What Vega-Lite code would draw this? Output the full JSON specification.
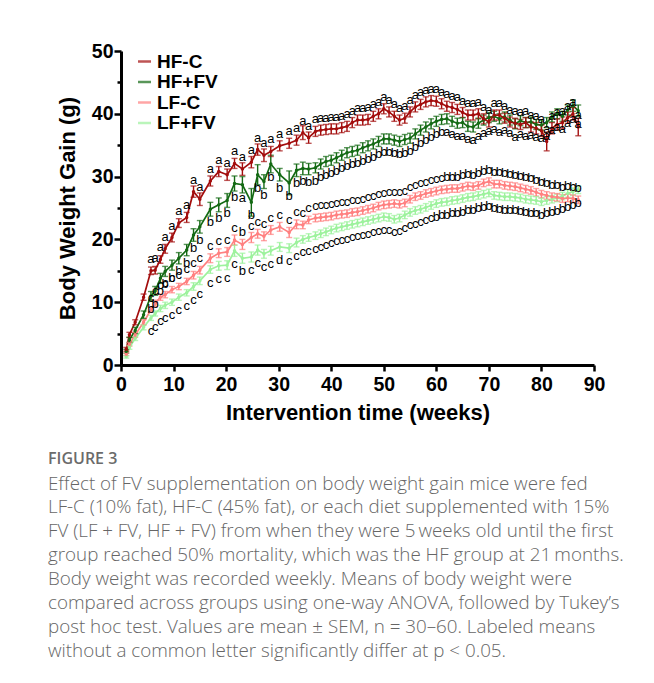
{
"$schema": "https://vega.github.io/schema/vega-lite/v6.json",
"width": 473, "height": 314,
"autosize": {"type": "none"},
"padding": {"left": 121, "top": 51, "right": 60, "bottom": 318},
"config": {"view": {"stroke": null}, "font": "Liberation Sans"},
"title": {
  "text": "FIGURE 3",
  "subtitle": [
    "Effect of FV supplementation on body weight gain mice were fed",
    "LF-C (10% fat), HF-C (45% fat), or each diet supplemented with 15%",
    "FV (LF + FV, HF + FV) from when they were 5\u2009weeks old until the first",
    "group reached 50% mortality, which was the HF group at 21\u2009months.",
    "Body weight was recorded weekly. Means of body weight were",
    "compared across groups using one-way ANOVA, followed by Tukey\u2019s",
    "post hoc test. Values are mean \u00b1 SEM, n = 30\u201360. Labeled means",
    "without a common letter significantly differ at p < 0.05."
  ],
  "orient": "bottom", "anchor": "start", "frame": "group",
  "offset": 27, "dx": -73,
  "font": "Open Sans", "fontSize": 16, "fontWeight": 600, "color": "#6b6b6b",
  "subtitleFont": "Open Sans", "subtitleFontSize": 18.8, "subtitleFontWeight": 300,
  "subtitleColor": "#666666", "subtitleLineHeight": 23.9, "subtitlePadding": 8
},
"data": {"values": [
{"g":"LF+FV","w":1,"m":1.3,"s":0.2,"l":""},
{"g":"LF+FV","w":1.6,"m":2.8,"s":0.3,"l":""},
{"g":"LF+FV","w":2.7,"m":4.2,"s":0.3,"l":""},
{"g":"LF+FV","w":4.3,"m":6.0,"s":0.4,"l":""},
{"g":"LF+FV","w":5.7,"m":7.5,"s":0.4,"l":"c"},
{"g":"LF+FV","w":6.5,"m":8.2,"s":0.4,"l":"c"},
{"g":"LF+FV","w":7.5,"m":9.0,"s":0.5,"l":"c"},
{"g":"LF+FV","w":8.4,"m":9.5,"s":0.5,"l":"c"},
{"g":"LF+FV","w":9.7,"m":10.0,"s":0.5,"l":"c"},
{"g":"LF+FV","w":11,"m":10.8,"s":0.5,"l":"c"},
{"g":"LF+FV","w":12.5,"m":11.5,"s":0.5,"l":"c"},
{"g":"LF+FV","w":13.8,"m":12.5,"s":0.6,"l":"c"},
{"g":"LF+FV","w":15,"m":13.4,"s":0.6,"l":"c"},
{"g":"LF+FV","w":17,"m":15.2,"s":0.6,"l":"c"},
{"g":"LF+FV","w":18.6,"m":15.8,"s":0.7,"l":"c"},
{"g":"LF+FV","w":20.2,"m":15.9,"s":0.7,"l":"c"},
{"g":"LF+FV","w":21.6,"m":18.2,"s":0.9,"l":"c"},
{"g":"LF+FV","w":23.1,"m":17.0,"s":0.8,"l":"b"},
{"g":"LF+FV","w":24.8,"m":17.2,"s":0.8,"l":"c"},
{"g":"LF+FV","w":26,"m":18.3,"s":0.8,"l":"c"},
{"g":"LF+FV","w":27.2,"m":17.7,"s":0.7,"l":"c"},
{"g":"LF+FV","w":28.5,"m":18.2,"s":0.7,"l":"c"},
{"g":"LF+FV","w":30.2,"m":18.8,"s":0.7,"l":"d"},
{"g":"LF+FV","w":32,"m":18.6,"s":0.7,"l":"c"},
{"g":"LF+FV","w":33.4,"m":19.5,"s":0.7,"l":"c"},
{"g":"LF+FV","w":34.6,"m":20.0,"s":0.6,"l":"c"},
{"g":"LF+FV","w":35.7,"m":20.3,"s":0.6,"l":"c"},
{"g":"LF+FV","w":37,"m":20.6,"s":0.6,"l":"c"},
{"g":"LF+FV","w":38,"m":20.9,"s":0.6,"l":"c"},
{"g":"LF+FV","w":39,"m":21.2,"s":0.6,"l":"c"},
{"g":"LF+FV","w":40,"m":21.5,"s":0.6,"l":"c"},
{"g":"LF+FV","w":41,"m":21.8,"s":0.6,"l":"c"},
{"g":"LF+FV","w":42,"m":22.0,"s":0.6,"l":"c"},
{"g":"LF+FV","w":43,"m":22.2,"s":0.6,"l":"c"},
{"g":"LF+FV","w":44,"m":22.4,"s":0.6,"l":"c"},
{"g":"LF+FV","w":45,"m":22.6,"s":0.6,"l":"c"},
{"g":"LF+FV","w":46,"m":22.8,"s":0.6,"l":"c"},
{"g":"LF+FV","w":47,"m":23.0,"s":0.6,"l":"c"},
{"g":"LF+FV","w":48,"m":23.2,"s":0.6,"l":"c"},
{"g":"LF+FV","w":49,"m":23.4,"s":0.6,"l":"c"},
{"g":"LF+FV","w":50,"m":23.6,"s":0.6,"l":"c"},
{"g":"LF+FV","w":51,"m":23.5,"s":0.6,"l":"c"},
{"g":"LF+FV","w":52,"m":23.2,"s":0.6,"l":"c"},
{"g":"LF+FV","w":53,"m":23.4,"s":0.6,"l":"c"},
{"g":"LF+FV","w":54,"m":23.9,"s":0.6,"l":"c"},
{"g":"LF+FV","w":55,"m":24.3,"s":0.6,"l":"c"},
{"g":"LF+FV","w":56,"m":24.6,"s":0.6,"l":"c"},
{"g":"LF+FV","w":57,"m":24.8,"s":0.6,"l":"c"},
{"g":"LF+FV","w":58,"m":25.1,"s":0.6,"l":"c"},
{"g":"LF+FV","w":59,"m":25.4,"s":0.6,"l":"c"},
{"g":"LF+FV","w":60,"m":25.7,"s":0.6,"l":"b"},
{"g":"LF+FV","w":61,"m":25.9,"s":0.6,"l":"b"},
{"g":"LF+FV","w":62,"m":26.0,"s":0.6,"l":"b"},
{"g":"LF+FV","w":63,"m":26.2,"s":0.6,"l":"b"},
{"g":"LF+FV","w":64,"m":26.3,"s":0.6,"l":"b"},
{"g":"LF+FV","w":65,"m":26.5,"s":0.6,"l":"b"},
{"g":"LF+FV","w":66,"m":26.7,"s":0.6,"l":"b"},
{"g":"LF+FV","w":67,"m":26.8,"s":0.6,"l":"b"},
{"g":"LF+FV","w":68,"m":27.0,"s":0.6,"l":"b"},
{"g":"LF+FV","w":69,"m":27.2,"s":0.6,"l":"b"},
{"g":"LF+FV","w":70,"m":27.4,"s":0.6,"l":"b"},
{"g":"LF+FV","w":71,"m":27.0,"s":0.6,"l":"b"},
{"g":"LF+FV","w":72,"m":26.9,"s":0.6,"l":"b"},
{"g":"LF+FV","w":73,"m":26.8,"s":0.6,"l":"b"},
{"g":"LF+FV","w":74,"m":26.8,"s":0.6,"l":"b"},
{"g":"LF+FV","w":75,"m":26.7,"s":0.6,"l":"b"},
{"g":"LF+FV","w":76,"m":26.6,"s":0.6,"l":"b"},
{"g":"LF+FV","w":77,"m":26.4,"s":0.6,"l":"b"},
{"g":"LF+FV","w":78,"m":26.3,"s":0.6,"l":"b"},
{"g":"LF+FV","w":79,"m":26.2,"s":0.6,"l":"b"},
{"g":"LF+FV","w":80,"m":26.0,"s":0.6,"l":"b"},
{"g":"LF+FV","w":81,"m":26.2,"s":0.6,"l":"b"},
{"g":"LF+FV","w":82,"m":26.4,"s":0.6,"l":"b"},
{"g":"LF+FV","w":83,"m":26.6,"s":0.6,"l":"b"},
{"g":"LF+FV","w":84,"m":26.9,"s":0.6,"l":"b"},
{"g":"LF+FV","w":85,"m":27.3,"s":0.6,"l":"b"},
{"g":"LF+FV","w":86,"m":27.6,"s":0.6,"l":"b"},
{"g":"LF+FV","w":87,"m":27.9,"s":0.6,"l":"b"},
{"g":"LF-C","w":1,"m":1.7,"s":0.2,"l":""},
{"g":"LF-C","w":1.6,"m":3.3,"s":0.3,"l":""},
{"g":"LF-C","w":2.7,"m":4.8,"s":0.4,"l":""},
{"g":"LF-C","w":4.3,"m":6.8,"s":0.4,"l":""},
{"g":"LF-C","w":5.7,"m":8.8,"s":0.4,"l":"c"},
{"g":"LF-C","w":6.5,"m":9.8,"s":0.5,"l":"c"},
{"g":"LF-C","w":7.5,"m":10.8,"s":0.5,"l":"c"},
{"g":"LF-C","w":8.4,"m":11.2,"s":0.5,"l":"c"},
{"g":"LF-C","w":9.7,"m":12.0,"s":0.5,"l":"c"},
{"g":"LF-C","w":11,"m":12.5,"s":0.5,"l":"c"},
{"g":"LF-C","w":12.5,"m":13.3,"s":0.5,"l":"c"},
{"g":"LF-C","w":13.8,"m":14.3,"s":0.6,"l":"c"},
{"g":"LF-C","w":15,"m":15.1,"s":0.6,"l":"c"},
{"g":"LF-C","w":17,"m":17.0,"s":0.7,"l":"c"},
{"g":"LF-C","w":18.6,"m":17.8,"s":0.7,"l":"c"},
{"g":"LF-C","w":20.2,"m":18.0,"s":0.7,"l":"c"},
{"g":"LF-C","w":21.6,"m":19.9,"s":0.8,"l":"c"},
{"g":"LF-C","w":23.1,"m":19.2,"s":0.8,"l":"b"},
{"g":"LF-C","w":24.8,"m":20.3,"s":0.8,"l":"c"},
{"g":"LF-C","w":26,"m":20.9,"s":0.7,"l":"c"},
{"g":"LF-C","w":27.2,"m":20.5,"s":0.7,"l":"c"},
{"g":"LF-C","w":28.5,"m":21.5,"s":0.7,"l":"c"},
{"g":"LF-C","w":30.2,"m":22.0,"s":0.7,"l":"c"},
{"g":"LF-C","w":32,"m":21.1,"s":0.8,"l":"c"},
{"g":"LF-C","w":33.4,"m":22.4,"s":0.7,"l":"c"},
{"g":"LF-C","w":34.6,"m":22.3,"s":0.6,"l":"c"},
{"g":"LF-C","w":35.7,"m":23.1,"s":0.6,"l":"c"},
{"g":"LF-C","w":37,"m":23.4,"s":0.6,"l":"c"},
{"g":"LF-C","w":38,"m":23.5,"s":0.6,"l":"c"},
{"g":"LF-C","w":39,"m":23.6,"s":0.6,"l":"c"},
{"g":"LF-C","w":40,"m":23.7,"s":0.6,"l":"c"},
{"g":"LF-C","w":41,"m":23.9,"s":0.6,"l":"c"},
{"g":"LF-C","w":42,"m":24.0,"s":0.6,"l":"c"},
{"g":"LF-C","w":43,"m":24.1,"s":0.6,"l":"c"},
{"g":"LF-C","w":44,"m":24.3,"s":0.6,"l":"c"},
{"g":"LF-C","w":45,"m":24.4,"s":0.6,"l":"c"},
{"g":"LF-C","w":46,"m":24.6,"s":0.6,"l":"c"},
{"g":"LF-C","w":47,"m":24.8,"s":0.6,"l":"c"},
{"g":"LF-C","w":48,"m":25.0,"s":0.6,"l":"c"},
{"g":"LF-C","w":49,"m":25.3,"s":0.6,"l":"c"},
{"g":"LF-C","w":50,"m":25.5,"s":0.6,"l":"c"},
{"g":"LF-C","w":51,"m":25.6,"s":0.6,"l":"c"},
{"g":"LF-C","w":52,"m":25.7,"s":0.6,"l":"c"},
{"g":"LF-C","w":53,"m":25.6,"s":0.6,"l":"c"},
{"g":"LF-C","w":54,"m":25.8,"s":0.6,"l":"c"},
{"g":"LF-C","w":55,"m":26.4,"s":0.6,"l":"c"},
{"g":"LF-C","w":56,"m":26.8,"s":0.6,"l":"c"},
{"g":"LF-C","w":57,"m":27.0,"s":0.6,"l":"c"},
{"g":"LF-C","w":58,"m":27.3,"s":0.6,"l":"c"},
{"g":"LF-C","w":59,"m":27.5,"s":0.6,"l":"c"},
{"g":"LF-C","w":60,"m":27.7,"s":0.6,"l":"c"},
{"g":"LF-C","w":61,"m":27.9,"s":0.6,"l":"c"},
{"g":"LF-C","w":62,"m":28.0,"s":0.6,"l":"b"},
{"g":"LF-C","w":63,"m":28.1,"s":0.6,"l":"b"},
{"g":"LF-C","w":64,"m":28.1,"s":0.6,"l":"b"},
{"g":"LF-C","w":65,"m":28.3,"s":0.6,"l":"b"},
{"g":"LF-C","w":66,"m":28.5,"s":0.6,"l":"b"},
{"g":"LF-C","w":67,"m":28.4,"s":0.6,"l":"b"},
{"g":"LF-C","w":68,"m":28.6,"s":0.6,"l":"b"},
{"g":"LF-C","w":69,"m":29.0,"s":0.6,"l":"b"},
{"g":"LF-C","w":70,"m":29.2,"s":0.6,"l":"b"},
{"g":"LF-C","w":71,"m":28.8,"s":0.6,"l":"b"},
{"g":"LF-C","w":72,"m":28.8,"s":0.6,"l":"b"},
{"g":"LF-C","w":73,"m":28.6,"s":0.6,"l":"b"},
{"g":"LF-C","w":74,"m":28.5,"s":0.6,"l":"b"},
{"g":"LF-C","w":75,"m":28.4,"s":0.6,"l":"b"},
{"g":"LF-C","w":76,"m":28.2,"s":0.6,"l":"b"},
{"g":"LF-C","w":77,"m":28.0,"s":0.6,"l":"b"},
{"g":"LF-C","w":78,"m":27.8,"s":0.6,"l":"b"},
{"g":"LF-C","w":79,"m":27.5,"s":0.6,"l":"b"},
{"g":"LF-C","w":80,"m":27.2,"s":0.6,"l":"b"},
{"g":"LF-C","w":81,"m":27.0,"s":0.6,"l":"b"},
{"g":"LF-C","w":82,"m":26.8,"s":0.6,"l":"b"},
{"g":"LF-C","w":83,"m":26.7,"s":0.6,"l":"b"},
{"g":"LF-C","w":84,"m":26.5,"s":0.6,"l":"b"},
{"g":"LF-C","w":85,"m":26.6,"s":0.6,"l":"b"},
{"g":"LF-C","w":86,"m":26.5,"s":0.6,"l":"b"},
{"g":"LF-C","w":87,"m":26.3,"s":0.6,"l":"b"},
{"g":"HF+FV","w":1,"m":2.2,"s":0.3,"l":""},
{"g":"HF+FV","w":1.6,"m":4.0,"s":0.4,"l":""},
{"g":"HF+FV","w":2.7,"m":5.5,"s":0.5,"l":""},
{"g":"HF+FV","w":4.3,"m":8.0,"s":0.6,"l":""},
{"g":"HF+FV","w":5.7,"m":11.0,"s":0.7,"l":"b"},
{"g":"HF+FV","w":6.5,"m":11.8,"s":0.7,"l":"b"},
{"g":"HF+FV","w":7.5,"m":13.8,"s":0.8,"l":"b"},
{"g":"HF+FV","w":8.4,"m":14.9,"s":0.8,"l":"b"},
{"g":"HF+FV","w":9.7,"m":15.9,"s":0.8,"l":"b"},
{"g":"HF+FV","w":11,"m":17.0,"s":0.9,"l":"b"},
{"g":"HF+FV","w":12.5,"m":18.3,"s":0.9,"l":"b"},
{"g":"HF+FV","w":13.8,"m":20.7,"s":1.0,"l":"b"},
{"g":"HF+FV","w":15,"m":22.0,"s":1.0,"l":"b"},
{"g":"HF+FV","w":17,"m":24.8,"s":1.1,"l":"b"},
{"g":"HF+FV","w":18.6,"m":25.5,"s":1.1,"l":"b"},
{"g":"HF+FV","w":20.2,"m":26.2,"s":1.1,"l":"b"},
{"g":"HF+FV","w":21.6,"m":28.9,"s":1.2,"l":"b"},
{"g":"HF+FV","w":23.1,"m":28.7,"s":1.3,"l":"a"},
{"g":"HF+FV","w":24.8,"m":25.9,"s":2.2,"l":"b"},
{"g":"HF+FV","w":26,"m":30.3,"s":1.6,"l":"b"},
{"g":"HF+FV","w":27.2,"m":29.2,"s":1.1,"l":"b"},
{"g":"HF+FV","w":28.5,"m":32.0,"s":1.4,"l":"b"},
{"g":"HF+FV","w":30.2,"m":30.3,"s":1.0,"l":"b"},
{"g":"HF+FV","w":32,"m":29.0,"s":1.9,"l":"b"},
{"g":"HF+FV","w":33.4,"m":31.0,"s":1.0,"l":"b"},
{"g":"HF+FV","w":34.6,"m":31.3,"s":1.0,"l":"b"},
{"g":"HF+FV","w":35.7,"m":31.2,"s":0.9,"l":"b"},
{"g":"HF+FV","w":37,"m":31.4,"s":0.8,"l":"b"},
{"g":"HF+FV","w":38,"m":32.0,"s":0.8,"l":"b"},
{"g":"HF+FV","w":39,"m":32.4,"s":0.8,"l":"b"},
{"g":"HF+FV","w":40,"m":32.6,"s":0.8,"l":"b"},
{"g":"HF+FV","w":41,"m":33.0,"s":0.8,"l":"b"},
{"g":"HF+FV","w":42,"m":33.4,"s":0.8,"l":"b"},
{"g":"HF+FV","w":43,"m":33.8,"s":0.8,"l":"b"},
{"g":"HF+FV","w":44,"m":34.0,"s":0.8,"l":"b"},
{"g":"HF+FV","w":45,"m":34.2,"s":0.8,"l":"b"},
{"g":"HF+FV","w":46,"m":34.6,"s":0.8,"l":"b"},
{"g":"HF+FV","w":47,"m":34.9,"s":0.8,"l":"b"},
{"g":"HF+FV","w":48,"m":35.2,"s":0.8,"l":"b"},
{"g":"HF+FV","w":49,"m":35.6,"s":0.8,"l":"b"},
{"g":"HF+FV","w":50,"m":36.0,"s":0.8,"l":"b"},
{"g":"HF+FV","w":51,"m":36.0,"s":0.8,"l":"b"},
{"g":"HF+FV","w":52,"m":35.8,"s":0.8,"l":"b"},
{"g":"HF+FV","w":53,"m":35.6,"s":0.8,"l":"b"},
{"g":"HF+FV","w":54,"m":35.9,"s":0.8,"l":"b"},
{"g":"HF+FV","w":55,"m":36.1,"s":0.8,"l":"b"},
{"g":"HF+FV","w":56,"m":36.8,"s":0.8,"l":"b"},
{"g":"HF+FV","w":57,"m":37.4,"s":0.8,"l":"b"},
{"g":"HF+FV","w":58,"m":37.9,"s":0.8,"l":"b"},
{"g":"HF+FV","w":59,"m":38.4,"s":0.8,"l":"b"},
{"g":"HF+FV","w":60,"m":38.8,"s":0.8,"l":"b"},
{"g":"HF+FV","w":61,"m":39.1,"s":0.8,"l":"b"},
{"g":"HF+FV","w":62,"m":39.2,"s":0.8,"l":"a"},
{"g":"HF+FV","w":63,"m":38.8,"s":0.8,"l":"a"},
{"g":"HF+FV","w":64,"m":38.5,"s":0.8,"l":"a"},
{"g":"HF+FV","w":65,"m":38.6,"s":0.8,"l":"a"},
{"g":"HF+FV","w":66,"m":38.0,"s":0.8,"l":"a"},
{"g":"HF+FV","w":67,"m":37.9,"s":0.8,"l":"a"},
{"g":"HF+FV","w":68,"m":38.5,"s":0.8,"l":"a"},
{"g":"HF+FV","w":69,"m":39.0,"s":0.8,"l":"a"},
{"g":"HF+FV","w":70,"m":39.4,"s":0.8,"l":"a"},
{"g":"HF+FV","w":71,"m":39.6,"s":0.8,"l":"a"},
{"g":"HF+FV","w":72,"m":39.2,"s":0.8,"l":"a"},
{"g":"HF+FV","w":73,"m":39.5,"s":0.8,"l":"a"},
{"g":"HF+FV","w":74,"m":39.0,"s":0.8,"l":"a"},
{"g":"HF+FV","w":75,"m":38.4,"s":0.8,"l":"a"},
{"g":"HF+FV","w":76,"m":38.9,"s":0.8,"l":"a"},
{"g":"HF+FV","w":77,"m":38.6,"s":0.8,"l":"a"},
{"g":"HF+FV","w":78,"m":38.7,"s":0.8,"l":"a"},
{"g":"HF+FV","w":79,"m":38.3,"s":0.8,"l":"a"},
{"g":"HF+FV","w":80,"m":38.2,"s":0.8,"l":"a"},
{"g":"HF+FV","w":81,"m":38.6,"s":0.8,"l":"a"},
{"g":"HF+FV","w":82,"m":39.5,"s":0.8,"l":"a"},
{"g":"HF+FV","w":83,"m":40.0,"s":0.8,"l":"a"},
{"g":"HF+FV","w":84,"m":39.6,"s":0.8,"l":"a"},
{"g":"HF+FV","w":85,"m":40.6,"s":0.8,"l":"a"},
{"g":"HF+FV","w":86,"m":41.3,"s":0.9,"l":"a"},
{"g":"HF+FV","w":87,"m":40.5,"s":0.9,"l":"a"},
{"g":"HF-C","w":1,"m":2.5,"s":0.3,"l":""},
{"g":"HF-C","w":1.6,"m":4.8,"s":0.4,"l":""},
{"g":"HF-C","w":2.7,"m":6.8,"s":0.4,"l":""},
{"g":"HF-C","w":4.3,"m":10.8,"s":0.5,"l":""},
{"g":"HF-C","w":5.7,"m":15.0,"s":0.6,"l":"a"},
{"g":"HF-C","w":6.5,"m":15.1,"s":0.6,"l":"a"},
{"g":"HF-C","w":7.5,"m":16.8,"s":0.6,"l":"a"},
{"g":"HF-C","w":8.4,"m":18.5,"s":0.7,"l":"a"},
{"g":"HF-C","w":9.7,"m":20.3,"s":0.7,"l":"a"},
{"g":"HF-C","w":11,"m":22.6,"s":0.7,"l":"a"},
{"g":"HF-C","w":12.5,"m":23.5,"s":0.8,"l":"a"},
{"g":"HF-C","w":13.8,"m":27.6,"s":0.9,"l":"a"},
{"g":"HF-C","w":15,"m":26.4,"s":1.0,"l":"a"},
{"g":"HF-C","w":17,"m":29.3,"s":0.8,"l":"a"},
{"g":"HF-C","w":18.6,"m":30.8,"s":0.8,"l":"a"},
{"g":"HF-C","w":20.2,"m":30.3,"s":0.9,"l":"a"},
{"g":"HF-C","w":21.6,"m":32.1,"s":0.8,"l":"a"},
{"g":"HF-C","w":23.1,"m":31.2,"s":1.0,"l":"a"},
{"g":"HF-C","w":24.8,"m":32.3,"s":0.9,"l":"a"},
{"g":"HF-C","w":26,"m":34.3,"s":0.9,"l":"a"},
{"g":"HF-C","w":27.2,"m":33.4,"s":1.0,"l":"a"},
{"g":"HF-C","w":28.5,"m":34.0,"s":0.8,"l":"a"},
{"g":"HF-C","w":30.2,"m":34.9,"s":0.8,"l":"a"},
{"g":"HF-C","w":32,"m":35.3,"s":0.8,"l":"a"},
{"g":"HF-C","w":33.4,"m":35.8,"s":0.8,"l":"a"},
{"g":"HF-C","w":34.6,"m":37.0,"s":1.1,"l":"a"},
{"g":"HF-C","w":35.7,"m":36.2,"s":0.9,"l":"a"},
{"g":"HF-C","w":37,"m":37.2,"s":0.8,"l":"a"},
{"g":"HF-C","w":38,"m":37.4,"s":0.8,"l":"a"},
{"g":"HF-C","w":39,"m":37.5,"s":0.8,"l":"a"},
{"g":"HF-C","w":40,"m":37.6,"s":0.8,"l":"a"},
{"g":"HF-C","w":41,"m":37.6,"s":0.8,"l":"a"},
{"g":"HF-C","w":42,"m":37.8,"s":0.8,"l":"a"},
{"g":"HF-C","w":43,"m":38.0,"s":0.8,"l":"a"},
{"g":"HF-C","w":44,"m":38.6,"s":0.8,"l":"a"},
{"g":"HF-C","w":45,"m":39.0,"s":0.8,"l":"a"},
{"g":"HF-C","w":46,"m":39.0,"s":0.8,"l":"a"},
{"g":"HF-C","w":47,"m":39.1,"s":0.8,"l":"a"},
{"g":"HF-C","w":48,"m":39.6,"s":0.8,"l":"a"},
{"g":"HF-C","w":49,"m":40.0,"s":0.8,"l":"a"},
{"g":"HF-C","w":50,"m":40.8,"s":0.8,"l":"a"},
{"g":"HF-C","w":51,"m":40.3,"s":0.8,"l":"a"},
{"g":"HF-C","w":52,"m":39.6,"s":0.8,"l":"a"},
{"g":"HF-C","w":53,"m":39.0,"s":0.8,"l":"a"},
{"g":"HF-C","w":54,"m":39.3,"s":0.8,"l":"a"},
{"g":"HF-C","w":55,"m":40.3,"s":0.8,"l":"a"},
{"g":"HF-C","w":56,"m":41.1,"s":0.8,"l":"a"},
{"g":"HF-C","w":57,"m":41.5,"s":0.8,"l":"a"},
{"g":"HF-C","w":58,"m":41.9,"s":0.8,"l":"a"},
{"g":"HF-C","w":59,"m":42.1,"s":0.8,"l":"a"},
{"g":"HF-C","w":60,"m":42.0,"s":0.8,"l":"a"},
{"g":"HF-C","w":61,"m":41.6,"s":0.8,"l":"a"},
{"g":"HF-C","w":62,"m":41.2,"s":0.8,"l":"a"},
{"g":"HF-C","w":63,"m":41.0,"s":0.8,"l":"a"},
{"g":"HF-C","w":64,"m":40.7,"s":0.8,"l":"a"},
{"g":"HF-C","w":65,"m":40.2,"s":0.8,"l":"a"},
{"g":"HF-C","w":66,"m":39.8,"s":0.8,"l":"a"},
{"g":"HF-C","w":67,"m":39.8,"s":0.8,"l":"a"},
{"g":"HF-C","w":68,"m":40.0,"s":0.8,"l":"a"},
{"g":"HF-C","w":69,"m":39.2,"s":0.8,"l":"a"},
{"g":"HF-C","w":70,"m":38.7,"s":0.8,"l":"a"},
{"g":"HF-C","w":71,"m":39.8,"s":0.8,"l":"a"},
{"g":"HF-C","w":72,"m":39.8,"s":0.8,"l":"a"},
{"g":"HF-C","w":73,"m":39.3,"s":0.8,"l":"a"},
{"g":"HF-C","w":74,"m":38.7,"s":0.8,"l":"a"},
{"g":"HF-C","w":75,"m":38.5,"s":0.8,"l":"a"},
{"g":"HF-C","w":76,"m":38.3,"s":0.8,"l":"a"},
{"g":"HF-C","w":77,"m":38.6,"s":0.8,"l":"a"},
{"g":"HF-C","w":78,"m":37.9,"s":0.8,"l":"a"},
{"g":"HF-C","w":79,"m":37.7,"s":0.9,"l":"a"},
{"g":"HF-C","w":80,"m":37.3,"s":0.9,"l":"a"},
{"g":"HF-C","w":81,"m":35.6,"s":1.5,"l":"a"},
{"g":"HF-C","w":82,"m":37.7,"s":0.9,"l":"a"},
{"g":"HF-C","w":83,"m":38.3,"s":0.9,"l":"a"},
{"g":"HF-C","w":84,"m":38.6,"s":0.9,"l":"a"},
{"g":"HF-C","w":85,"m":39.4,"s":0.9,"l":"a"},
{"g":"HF-C","w":86,"m":40.0,"s":1.0,"l":"a"},
{"g":"HF-C","w":87,"m":37.9,"s":1.4,"l":"a"}
]},
"encoding": {
  "x": {"field": "w", "type": "quantitative", "scale": {"domain": [0, 90], "nice": false},
    "axis": {"values": [0,10,20,30,40,50,60,70,80,90], "grid": false, "tickSize": 6, "tickWidth": 2.5, "tickColor": "black",
      "domainWidth": 3, "domainColor": "black", "labelFontSize": 19.5, "labelFontWeight": "bold", "labelColor": "black",
      "labelPadding": 4, "labelFlush": false, "title": "Intervention time (weeks)", "titleFontSize": 22, "titleFontWeight": "bold",
      "titleColor": "black", "titlePadding": 9}},
  "y": {"field": "m", "type": "quantitative", "scale": {"domain": [0, 50], "nice": false},
    "axis": {"values": [0,5,10,15,20,25,30,35,40,45,50], "labelExpr": "datum.value % 10 === 0 ? datum.label : ''",
      "grid": false, "tickSize": {"condition": {"test": "datum.value % 10 === 0", "value": 7}, "value": 4},
      "tickWidth": 2.5, "tickColor": "black", "domainWidth": 3, "domainColor": "black",
      "labelFontSize": 19.5, "labelFontWeight": "bold", "labelColor": "black", "labelPadding": 1, "labelFlush": false,
      "title": "Body Weight Gain (g)", "titleFontSize": 22, "titleFontWeight": "bold", "titleColor": "black", "titlePadding": 12}}
},
"layer": [
  {"mark": {"type": "line", "strokeWidth": 1.7},
   "encoding": {"color": {"field": "g", "type": "nominal",
     "scale": {"domain": ["HF-C", "HF+FV", "LF-C", "LF+FV"], "range": ["#a30d0d", "#146a14", "#ff8080", "#9df29d"]},
     "legend": {"orient": "none", "legendX": 14, "legendY": 1, "title": null, "symbolType": "stroke", "symbolStrokeWidth": 2.5,
       "symbolSize": 169, "labelFontSize": 19, "labelFontWeight": "bold", "labelColor": "black", "labelFont": "Liberation Sans",
       "rowPadding": 0.5, "labelOffset": 3, "padding": 0}}}},
  {"mark": {"type": "errorbar", "ticks": {"size": 6}, "thickness": 1.4},
   "encoding": {"yError": {"field": "s"}, "color": {"field": "g", "type": "nominal"}}},
  {"mark": {"type": "point", "filled": true, "size": 12, "opacity": 1},
   "encoding": {"color": {"field": "g", "type": "nominal"}}},
  {"transform": [{"filter": "datum.g === 'HF-C' || datum.g === 'LF-C'"}],
   "mark": {"type": "text", "dy": -12, "fontSize": 13, "color": "black", "font": "Liberation Sans"},
   "encoding": {"text": {"field": "l"}}},
  {"transform": [{"filter": "datum.g === 'HF+FV' || datum.g === 'LF+FV'"}],
   "mark": {"type": "text", "dy": 13, "fontSize": 13, "color": "black", "font": "Liberation Sans"},
   "encoding": {"text": {"field": "l"}}},
  {"data": {"values": [{"t": "61 weeks"}]},
   "mark": {"type": "text", "fontSize": 15, "fontWeight": "bold", "color": "black", "font": "Liberation Sans"},
   "encoding": {"x": {"datum": 62}, "y": {"datum": 48.2}, "text": {"field": "t"}}},
  {"data": {"values": [{}]},
   "mark": {"type": "rule", "color": "#e8231c", "strokeWidth": 1.6},
   "encoding": {"x": {"datum": 61.85}, "y": {"datum": 47.4}, "x2": {"datum": 60.95}, "y2": {"datum": 44.9}}},
  {"data": {"values": [{}]},
   "mark": {"type": "point", "shape": "triangle-down", "filled": true, "color": "#e8231c", "size": 28, "angle": 16, "opacity": 1},
   "encoding": {"x": {"datum": 60.85}, "y": {"datum": 44.7}}}
]
}
